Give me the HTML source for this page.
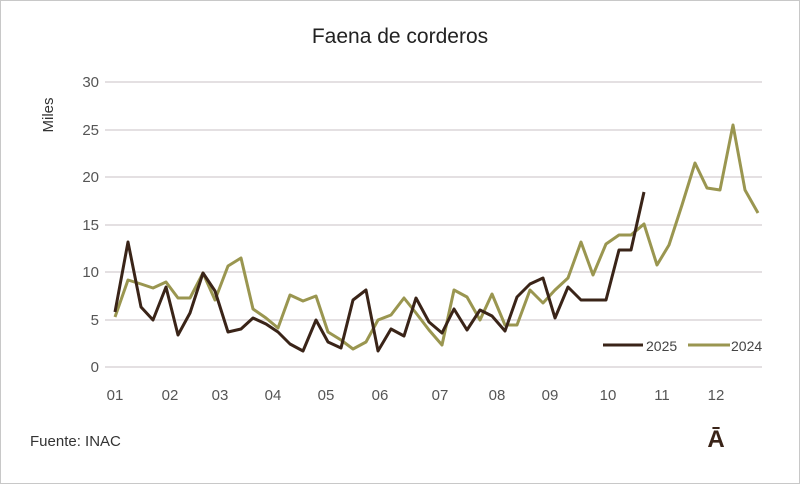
<!DOCTYPE html>
<html><head><style>
html,body{margin:0;padding:0;background:#fff}
</style></head><body>
<svg width="800" height="484" xmlns="http://www.w3.org/2000/svg" font-family="Liberation Sans, sans-serif">
<rect x="0.5" y="0.5" width="799" height="483" fill="#fff" stroke="#c8c8c8"/>
<text x="400" y="43" text-anchor="middle" font-size="21" fill="#222">Faena de corderos</text>
<g stroke="#dcd6d8" stroke-width="1.5">
<line x1="105" x2="762" y1="82" y2="82"/><line x1="105" x2="762" y1="130" y2="130"/>
<line x1="105" x2="762" y1="177" y2="177"/><line x1="105" x2="762" y1="225" y2="225"/>
<line x1="105" x2="762" y1="272" y2="272"/><line x1="105" x2="762" y1="320" y2="320"/>
<line x1="105" x2="762" y1="367" y2="367"/>
</g>
<g font-size="15" fill="#555" text-anchor="end">
<text x="99" y="87">30</text><text x="99" y="135">25</text><text x="99" y="182">20</text>
<text x="99" y="230">15</text><text x="99" y="277">10</text><text x="99" y="325">5</text><text x="99" y="372">0</text>
</g>
<text transform="translate(53,115) rotate(-90)" text-anchor="middle" font-size="15" fill="#333">Miles</text>
<g font-size="15" fill="#555" text-anchor="middle">
<text x="115" y="400">01</text><text x="170" y="400">02</text><text x="220" y="400">03</text>
<text x="273" y="400">04</text><text x="326" y="400">05</text><text x="380" y="400">06</text>
<text x="440" y="400">07</text><text x="497" y="400">08</text><text x="550" y="400">09</text>
<text x="608" y="400">10</text><text x="662" y="400">11</text><text x="716" y="400">12</text>
</g>
<polyline fill="none" stroke="#9a9650" stroke-width="3" stroke-linejoin="round" points="115,317 128,280 141,284 153,288 166,282 178,298 190,298 203,273 215,300 228,266 241,258 253,309 266,318 278,328 290,295 303,301 316,296 328,332 341,340 353,349 366,342 378,320 391,315 404,298 416,313 429,330 442,345 454,290 467,297 480,320 492,294 505,325 517,325 530,290 543,303 555,290 568,278 581,242 593,275 606,244 619,235 631,235 644,224 657,265 669,245 682,205 695,163 707,188 720,190 733,125 745,190 758,213"/>
<polyline fill="none" stroke="#3a2418" stroke-width="3" stroke-linejoin="round" points="115,312 128,242 141,307 153,320 166,287 178,335 190,313 203,273 215,291 228,332 241,329 253,318 266,324 278,332 290,344 303,351 316,320 328,342 341,348 353,300 366,290 378,351 391,329 404,336 416,298 429,322 442,333 454,309 467,330 480,310 492,316 505,331 517,297 530,284 543,278 555,318 568,287 581,300 593,300 606,300 619,250 631,250 644,192"/>
<line x1="603" x2="643" y1="345" y2="345" stroke="#3a2418" stroke-width="3"/>
<text x="646" y="351" font-size="14" fill="#444">2025</text>
<line x1="688" x2="730" y1="345" y2="345" stroke="#9a9650" stroke-width="3"/>
<text x="731" y="351" font-size="14" fill="#444">2024</text>
<text x="30" y="446" font-size="15" fill="#333">Fuente: INAC</text>
<text x="716" y="447" font-size="24" font-weight="bold" fill="#3a2418" text-anchor="middle">Ā</text>
</svg>
</body></html>
